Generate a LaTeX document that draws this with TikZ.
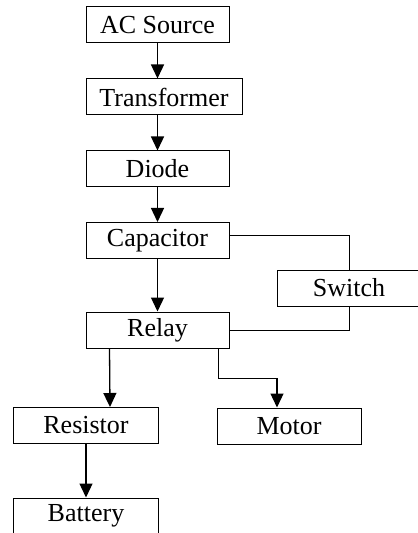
\documentclass[tikz,border=0pt]{standalone}
\usepackage{fontspec}
\setmainfont{Liberation Serif}
\usetikzlibrary{arrows.meta,positioning,calc}

\begin{document}
\begin{tikzpicture}[x=1bp, y=-1bp,
  block/.style={draw, line width=1bp, minimum width=143bp, minimum height=36bp, inner sep=0pt, font=\fontsize{26bp}{30bp}\selectfont},
  flow/.style={line width=1.3bp, -{Triangle[length=14bp, width=13bp]}},
  wire/.style={line width=1bp}]
  \useasboundingbox (0,0) rectangle (417,533);
  % main chain
  \node[block] (ac) at (157.5,25) {AC Source};
  \node[block, minimum width=156bp] (tr) at (164,97) {Transformer};
  \node[block] (di) at (157.5,169) {Diode};
  \node[block] (ca) at (157.5,240.5) {Capacitor};
  \node[block, minimum width=144bp] (sw) at (349,288) {Switch};
  \node[block] (re) at (157.5,330) {Relay};
  \node[block, minimum width=144bp] (rs) at (86,425.5) {Resistor};
  \node[block, minimum width=144bp] (mo) at (289,426) {Motor};
  \node[block, minimum width=144bp] (ba) at (86,516) {Battery};
  \draw[flow] (ac.south) -- (ac.south |- tr.north);
  \draw[flow] (ac.south |- tr.south) -- (di.north);
  \draw[flow] (di.south) -- (ca.north);
  \draw[flow] (ca.south) -- (re.north);
  % switch loop
  \draw[wire] ([yshift=5bp]ca.east) -| (sw.north);
  \draw[wire] (sw.south) |- (re.east);
  % outputs
  \draw[flow] ([xshift=24bp]re.south west) -- ([xshift=24bp]rs.north);
  \draw[flow] ([xshift=-11bp]re.south east) -- ++(0,30) -| ([xshift=-12bp]mo.north);
  \draw[flow] (rs.south) -- (ba.north);
\end{tikzpicture}
\end{document}
